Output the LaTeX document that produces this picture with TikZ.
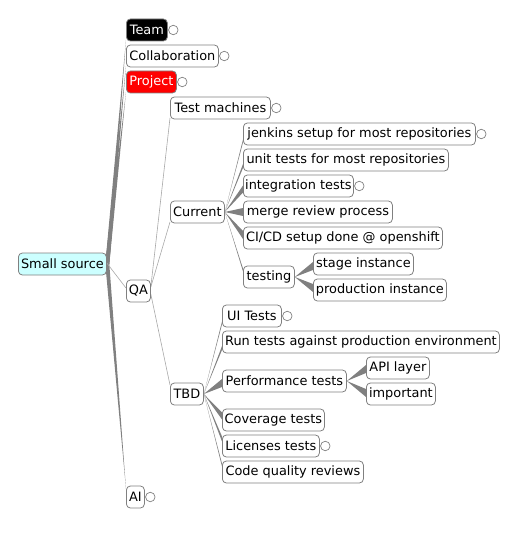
\documentclass[tikz,border=0pt]{standalone}
\usepackage{fontspec}
\setmainfont{DejaVu Sans}
\usetikzlibrary{calc,backgrounds}
\definecolor{edgegray}{HTML}{808080}
\definecolor{thingray}{HTML}{A8A8A8}
\definecolor{rootfill}{HTML}{CCFFFF}
\newcommand\mmedge[4]{\fill[edgegray] (#1.east) -- ($(#2.west)+(0,#3+#4)$) -- ($(#2.west)+(0,#3-#4)$) -- cycle;}
\newcommand\rootedge[2]{\fill[edgegray] ($(root.east)+(-1.5,0)$) -- ($(root.east)+(2.5,0)$) -- ($(#1.west)+(0,#2)$) -- cycle;}
\newcommand\thinedge[4]{\draw[thinline] ($(#1.east)+(0,#2)$) -- ($(#3.west)+(0,#4)$);}
\tikzset{
  mm/.style={draw=edgegray, line width=0.8pt, rounded corners=4pt, fill=white,
    minimum height=22pt, inner xsep=1pt, inner ysep=0pt, anchor=west,
    font=\fontsize{12.9}{15}\selectfont, text=black},
  foldc/.style={circle, draw=edgegray, line width=0.7pt, fill=white, minimum size=9.5pt, inner sep=0pt},
  thinline/.style={draw=thingray, line width=0.6pt}
}
\begin{document}
\begin{tikzpicture}[x=1pt,y=1pt]
\useasboundingbox (0,0) rectangle (520,-537);
% nodes
\node[mm, minimum width=88pt, fill=rootfill] (root) at (18,-264) {Small source};
\node[mm, minimum width=41pt, fill=black, text=white] (team) at (126,-30) {Team};
\node[mm, minimum width=92pt] (collab) at (126,-56) {Collaboration};
\node[mm, minimum width=50pt, fill=red, text=white] (project) at (126,-82) {Project};
\node[mm, minimum width=24pt] (qa) at (126,-291) {QA};
\node[mm, minimum width=18pt] (ai) at (126,-497) {AI};
\node[mm, minimum width=100pt] (testm) at (170,-108) {Test machines};
\node[mm, minimum width=54pt] (current) at (170,-212) {Current};
\node[mm, minimum width=33pt] (tbd) at (170,-394) {TBD};
\node[mm, minimum width=232pt] (jenkins) at (243,-134) {jenkins setup for most repositories};
\node[mm, minimum width=205pt] (unit) at (243,-160) {unit tests for most repositories};
\node[mm, minimum width=110pt] (integ) at (243,-186) {integration tests};
\node[mm, minimum width=149pt] (merge) at (243,-212) {merge review process};
\node[mm, minimum width=199pt] (cicd) at (243,-238) {CI/CD setup done @ openshift};
\node[mm, minimum width=51pt] (testing) at (243,-277) {testing};
\node[mm, minimum width=100pt] (stage) at (313,-264) {stage instance};
\node[mm, minimum width=133pt] (prod) at (313,-290) {production instance};
\node[mm, minimum width=59pt] (ui) at (222,-316) {UI Tests};
\node[mm, minimum width=277pt] (run) at (222,-342) {Run tests against production environment};
\node[mm, minimum width=124pt] (perf) at (222,-381) {Performance tests};
\node[mm, minimum width=63pt] (api) at (366,-368) {API layer};
\node[mm, minimum width=69pt] (important) at (366,-394) {important};
\node[mm, minimum width=102pt] (coverage) at (222,-420) {Coverage tests};
\node[mm, minimum width=97pt] (licenses) at (222,-446) {Licenses tests};
\node[mm, minimum width=141pt] (codeq) at (222,-472) {Code quality reviews};
% fold circles
\node[foldc] (team-c) at ($(team.east)+(5.5,0)$) {};
\node[foldc] (collab-c) at ($(collab.east)+(5.5,0)$) {};
\node[foldc] (project-c) at ($(project.east)+(5.5,0)$) {};
\node[foldc] (ai-c) at ($(ai.east)+(5.5,0)$) {};
\node[foldc] (testm-c) at ($(testm.east)+(5.5,0)$) {};
\node[foldc] (jenkins-c) at ($(jenkins.east)+(5.5,0)$) {};
\node[foldc] (integ-c) at ($(integ.east)+(5.5,0)$) {};
\node[foldc] (ui-c) at ($(ui.east)+(5.5,0)$) {};
\node[foldc] (licenses-c) at ($(licenses.east)+(5.5,0)$) {};
% edges
\begin{scope}[on background layer]
\rootedge{team}{-10}
\rootedge{collab}{-10}
\rootedge{project}{-10}
\rootedge{ai}{8}
\thinedge{root}{1}{qa}{3}
\thinedge{qa}{4}{testm}{-10}
\thinedge{qa}{4}{current}{-10}
\thinedge{qa}{-3}{tbd}{9}
\mmedge{current}{jenkins}{-7}{1.5}
\mmedge{current}{unit}{-6}{2}
\mmedge{current}{integ}{-3}{3.5}
\mmedge{current}{merge}{0}{4}
\mmedge{current}{cicd}{3}{4}
\mmedge{current}{testing}{7}{1.5}
\mmedge{testing}{stage}{-2}{4}
\mmedge{testing}{prod}{2}{4}
\mmedge{tbd}{ui}{-7}{1.5}
\mmedge{tbd}{run}{-6}{2}
\mmedge{tbd}{perf}{-2}{4}
\mmedge{tbd}{coverage}{4}{3.5}
\mmedge{tbd}{licenses}{7}{2.5}
\mmedge{tbd}{codeq}{7}{1.5}
\mmedge{perf}{api}{-1}{4}
\mmedge{perf}{important}{1}{4}
\end{scope}
\end{tikzpicture}
\end{document}
